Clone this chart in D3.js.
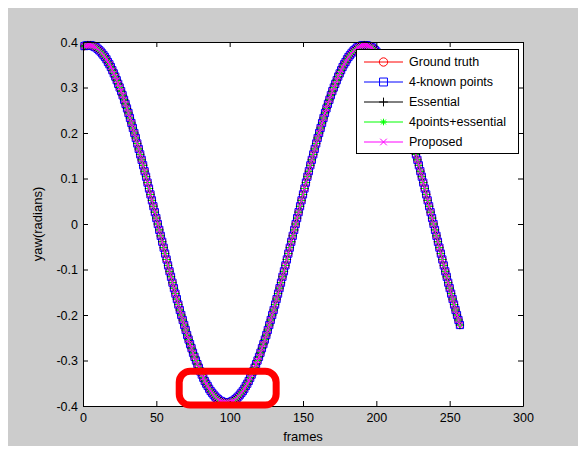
<!DOCTYPE html>
<html>
<head>
<meta charset="utf-8">
<script src="https://cdn.jsdelivr.net/npm/d3@7/dist/d3.min.js"></script>
<style>
  body { margin: 0; background: #ffffff; }
  svg { display: block; font-family: Arial, "Liberation Sans", Helvetica, sans-serif; }
</style>
</head>
<body>
<svg id="chart" width="582" height="451"></svg>
<script>

// yaw angle (radians) of the ground truth, one value per frame starting at frame 1
var yawGroundTruth = [
  0.391, 0.392, 0.393,
  0.393, 0.393, 0.392, 0.391, 0.389, 0.388, 0.385, 0.382, 0.379, 0.375,
  0.371, 0.367, 0.362, 0.356, 0.351, 0.345, 0.338, 0.331, 0.324, 0.316,
  0.308, 0.300, 0.292, 0.283, 0.273, 0.264, 0.254, 0.244, 0.233, 0.222,
  0.211, 0.200, 0.189, 0.177, 0.165, 0.153, 0.141, 0.129, 0.116, 0.104,
  0.091, 0.078, 0.065, 0.052, 0.039, 0.026, 0.013, 0.000,
  -0.013, -0.026, -0.039, -0.052, -0.065, -0.078, -0.091, -0.104, -0.116, -0.129,
  -0.141, -0.153, -0.165, -0.177, -0.189, -0.200, -0.211, -0.222, -0.233, -0.244,
  -0.254, -0.264, -0.273, -0.283, -0.292, -0.300, -0.308, -0.316, -0.324, -0.331,
  -0.338, -0.345, -0.351, -0.356, -0.362, -0.367, -0.371, -0.375, -0.379, -0.382,
  -0.385, -0.388, -0.389, -0.391, -0.392, -0.393, -0.393,
  -0.393, -0.392, -0.391, -0.389, -0.388, -0.385, -0.382, -0.379, -0.375, -0.371,
  -0.367, -0.362, -0.356, -0.351, -0.345, -0.338, -0.331, -0.324, -0.316, -0.308,
  -0.300, -0.292, -0.283, -0.273, -0.264, -0.254, -0.244, -0.233, -0.222, -0.211,
  -0.200, -0.189, -0.177, -0.165, -0.153, -0.141, -0.129, -0.116, -0.104, -0.091,
  -0.078, -0.065, -0.052, -0.039, -0.026, -0.013, 0.000,
  0.013, 0.026, 0.039, 0.052, 0.065, 0.078, 0.091, 0.104, 0.116, 0.129,
  0.141, 0.153, 0.165, 0.177, 0.189, 0.200, 0.211, 0.222, 0.233, 0.244,
  0.254, 0.264, 0.273, 0.283, 0.292, 0.300, 0.308, 0.316, 0.324, 0.331,
  0.338, 0.345, 0.351, 0.356, 0.362, 0.367, 0.371, 0.375, 0.379, 0.382,
  0.385, 0.388, 0.389, 0.391, 0.392, 0.393, 0.393,
  0.393, 0.392, 0.391, 0.389, 0.388, 0.385, 0.382, 0.379, 0.375, 0.371,
  0.367, 0.362, 0.356, 0.351, 0.345, 0.338, 0.331, 0.324, 0.316, 0.308,
  0.300, 0.292, 0.283, 0.273, 0.264, 0.254, 0.244, 0.233, 0.222, 0.211,
  0.200, 0.189, 0.177, 0.165, 0.153, 0.141, 0.129, 0.116, 0.104, 0.091,
  0.078, 0.065, 0.052, 0.039, 0.026, 0.013, 0.000,
  -0.013, -0.026, -0.039, -0.052, -0.065, -0.078, -0.091, -0.104, -0.116, -0.129,
  -0.141, -0.153, -0.165, -0.177, -0.189, -0.200, -0.211, -0.222
];

// the four estimates sit on top of the ground truth at this scale
var yawFourPoints = yawGroundTruth;
var yawEssential = yawGroundTruth;
var yawFourPointsEssential = yawGroundTruth;
var yawProposed = yawGroundTruth;

var seriesNames = ["Ground truth", "4-known points", "Essential", "4points+essential", "Proposed"];
var seriesColors = ["#ff0000", "#0000ff", "#000000", "#00ff00", "#ff00ff"];
var seriesMarkers = ["circle", "square", "plus", "star", "cross"];
var seriesValues = [yawGroundTruth, yawFourPoints, yawEssential, yawFourPointsEssential, yawProposed];

var xTicks = [0, 50, 100, 150, 200, 250, 300];
var yTicks = [-0.4, -0.3, -0.2, -0.1, 0, 0.1, 0.2, 0.3, 0.4];
var yTickLabels = ["-0.4", "-0.3", "-0.2", "-0.1", "0", "0.1", "0.2", "0.3", "0.4"];

// region around the minimum that is boxed in red (data units)
var highlightFrames = [65.6, 131.7];
var highlightYaw = [-0.3235, -0.398];

var frames = d3.range(1, yawGroundTruth.length + 1);

var svg = d3.select('#chart');

// figure background
svg.append('rect')
  .attr('x', 8).attr('y', 8)
  .attr('width', 570).attr('height', 438)
  .attr('fill', '#cccccc');

var plotLeft = 83, plotRight = 523, plotTop = 42, plotBottom = 406;

var x = d3.scaleLinear().domain([0, 300]).range([plotLeft, plotRight]);
var y = d3.scaleLinear().domain([-0.4, 0.4]).range([plotBottom, plotTop]);

svg.append('rect')
  .attr('x', plotLeft).attr('y', plotTop)
  .attr('width', plotRight - plotLeft).attr('height', plotBottom - plotTop)
  .attr('fill', '#ffffff');

// marker shapes, centred on 0,0
var markerPaths = {
  circle: 'M3.8,0A3.8,3.8 0 1,1 -3.8,0A3.8,3.8 0 1,1 3.8,0Z',
  square: 'M-3.6,-3.6H3.6V3.6H-3.6Z',
  plus: 'M-4,0H4M0,-4V4',
  star: 'M-3,0H3M0,-3V3M-2.2,-2.2L2.2,2.2M-2.2,2.2L2.2,-2.2',
  cross: 'M-3,-3L3,3M-3,3L3,-3'
};

var line = d3.line()
  .x(function(d, i){ return x(frames[i]); })
  .y(function(d){ return y(d); });

seriesNames.forEach(function(name, k){
  var g = svg.append('g').attr('class', 'series');

  g.append('path')
    .datum(seriesValues[k])
    .attr('d', line)
    .attr('fill', 'none')
    .attr('stroke', seriesColors[k])
    .attr('stroke-width', 1);

  g.selectAll('path.marker')
    .data(seriesValues[k])
    .enter()
    .append('path')
    .attr('class', 'marker')
    .attr('transform', function(d, i){ return 'translate(' + x(frames[i]) + ',' + y(d) + ')'; })
    .attr('d', markerPaths[seriesMarkers[k]])
    .attr('fill', 'none')
    .attr('stroke', seriesColors[k])
    .attr('stroke-width', 1);
});

// axes, ticks pointing inward on all four sides
function styleAxis(g){
  g.attr('font-family', null).attr('font-size', null);
  g.selectAll('path.domain').attr('stroke', '#000').attr('stroke-width', 1);
  g.selectAll('line').attr('stroke', '#000');
  g.selectAll('text').attr('fill', '#000').style('font-size', '12.5px');
}

svg.append('g')
  .attr('transform', 'translate(0,' + plotBottom + ')')
  .call(d3.axisBottom(x).tickValues(xTicks).tickSizeInner(-5).tickSizeOuter(0).tickPadding(7))
  .call(styleAxis);

svg.append('g')
  .attr('transform', 'translate(0,' + plotTop + ')')
  .call(d3.axisTop(x).tickValues(xTicks).tickSizeInner(-5).tickSizeOuter(0).tickFormat(''))
  .call(styleAxis);

svg.append('g')
  .attr('transform', 'translate(' + plotLeft + ',0)')
  .call(d3.axisLeft(y).tickValues(yTicks).tickSizeInner(-5).tickSizeOuter(0).tickPadding(5)
    .tickFormat(function(d, i){ return yTickLabels[i]; }))
  .call(styleAxis);

svg.append('g')
  .attr('transform', 'translate(' + plotRight + ',0)')
  .call(d3.axisRight(y).tickValues(yTicks).tickSizeInner(-5).tickSizeOuter(0).tickFormat(''))
  .call(styleAxis);

// axis labels
svg.append('text')
  .attr('x', (plotLeft + plotRight) / 2)
  .attr('y', 441)
  .attr('text-anchor', 'middle')
  .style('font-size', '13px')
  .text('frames');

svg.append('text')
  .attr('transform', 'translate(42,' + (plotTop + plotBottom) / 2 + ') rotate(-90)')
  .attr('text-anchor', 'middle')
  .style('font-size', '13px')
  .text('yaw(radians)');

// legend
var legend = svg.append('g').attr('transform', 'translate(356.5,49.5)');

legend.append('rect')
  .attr('width', 162).attr('height', 104)
  .attr('fill', '#ffffff')
  .attr('stroke', '#000')
  .attr('stroke-width', 1);

seriesNames.forEach(function(name, k){
  var row = legend.append('g').attr('transform', 'translate(0,' + (12.5 + k * 20) + ')');
  row.append('line')
    .attr('x1', 7.5).attr('x2', 46.5)
    .attr('stroke', seriesColors[k]);
  row.append('path')
    .attr('transform', 'translate(27,0) scale(1.1)')
    .attr('d', markerPaths[seriesMarkers[k]])
    .attr('fill', 'none')
    .attr('stroke', seriesColors[k])
    .attr('stroke-width', 0.9);
  row.append('text')
    .attr('x', 52.5)
    .attr('dy', '0.35em')
    .style('font-size', '12.5px')
    .text(name);
});

// red box around the minimum
svg.append('rect')
  .attr('x', x(highlightFrames[0]))
  .attr('y', y(highlightYaw[0]))
  .attr('width', x(highlightFrames[1]) - x(highlightFrames[0]))
  .attr('height', y(highlightYaw[1]) - y(highlightYaw[0]))
  .attr('rx', 11).attr('ry', 11)
  .attr('fill', 'none')
  .attr('stroke', '#ff0000')
  .attr('stroke-width', 7);

</script>
</body>
</html>
